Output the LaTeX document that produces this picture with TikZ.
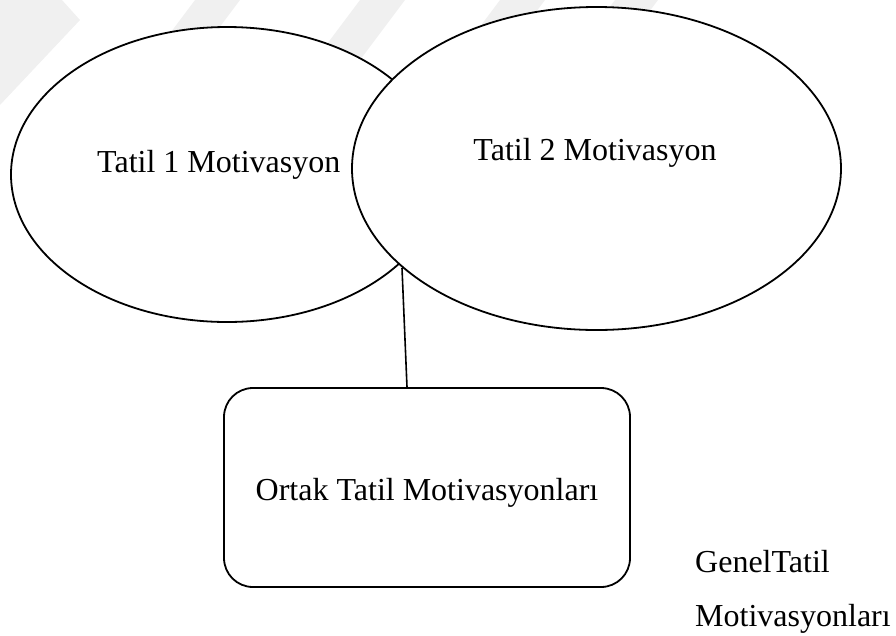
\documentclass[tikz,border=0pt]{standalone}
\usepackage{fontspec}
\setmainfont{Liberation Serif}
\usetikzlibrary{shapes.geometric}
\begin{document}
\begin{tikzpicture}[x=1pt,y=-1pt,
  wmark/.style={fill=black!6,draw=none},
  oval/.style={ellipse,draw=black,fill=white,line width=1.8pt,inner sep=0pt},
  boxstyle/.style={draw=black,line width=1.8pt,rounded corners=29pt},
  txt/.style={inner sep=0pt,font=\fontsize{32}{38}\selectfont},
  link/.style={draw=black,line width=1.6pt}]
\useasboundingbox (0,0) rectangle (896,635);
% faint watermark
\fill[wmark] (0,0) -- (62,0) -- (80,20) -- (0,105) -- cycle;
\fill[wmark] (195,0) -- (240,0) -- (150,120) -- (105,120) -- cycle;
\fill[wmark] (360,0) -- (405,0) -- (315,120) -- (270,120) -- cycle;
\fill[wmark] (500,0) -- (545,0) -- (455,120) -- (410,120) -- cycle;
\fill[wmark] (615,0) -- (658,0) -- (568,120) -- (525,120) -- cycle;
% ellipses
\node[oval,minimum width=432pt,minimum height=295pt] (e1) at (227,174.5) {};
\node[oval,minimum width=489pt,minimum height=323pt] (e2) at (596.5,168.5) {};
\node[txt,anchor=base west] (t1) at (97,172) {Tatil 1 Motivasyon};
\node[txt,anchor=base] (t2) at (595,160) {Tatil 2 Motivasyon};
% box
\node[boxstyle,minimum width=406pt,minimum height=199pt,inner sep=0pt] (box) at (427,487.5) {};
\node[txt,anchor=base] (t3) at (427,500) {Ortak Tatil Motivasyonları};
% connector
\coordinate (meet) at (402,268);
\draw[link] (meet) -- ([xshift=-20pt]box.north);
% side label
\node[txt,anchor=base west] (g1) at (695,572) {GenelTatil};
\node[txt,anchor=base west] (g2) at (695,626) {Motivasyonları};
\end{tikzpicture}
\end{document}
